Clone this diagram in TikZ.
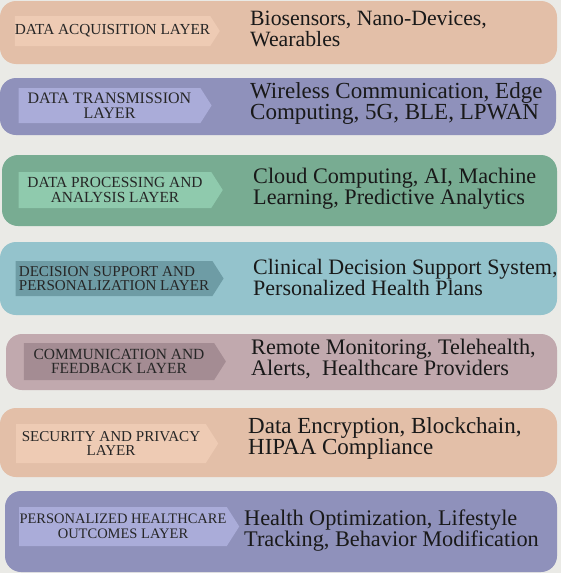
\documentclass[tikz,border=0pt]{standalone}
\usepackage{fontspec}
\setmainfont{Liberation Serif}
\usetikzlibrary{shapes.symbols}

\definecolor{paper}{HTML}{EAEAE6}
\definecolor{peach}{HTML}{E3BFA8}
\definecolor{peachlt}{HTML}{EECBB4}
\definecolor{lilac}{HTML}{8F91BB}
\definecolor{lilaclt}{HTML}{AAACD9}
\definecolor{sage}{HTML}{78AC92}
\definecolor{sagelt}{HTML}{8FCAAD}
\definecolor{aqua}{HTML}{94C3CC}
\definecolor{aquadk}{HTML}{6E9CA5}
\definecolor{mauve}{HTML}{C1A9AE}
\definecolor{mauvedk}{HTML}{A48C93}

\begin{document}
\begin{tikzpicture}[
        x=1pt, y=-1pt,
        band/.style={rectangle, rounded corners=16pt, inner sep=0pt},
        tag/.style={signal, signal to=east, signal pointer angle=115, inner sep=0pt,
            align=center, text=black!85, font=\fontsize{#1}{14.5}\selectfont},
        items/.style={anchor=west, align=left, inner sep=0pt, text=black!90,
            font=\fontsize{#1}{21}\selectfont}
    ]
    \fill[paper] (0,0) rectangle (561,573);

    \node[band, fill=peach, minimum width=557pt, minimum height=63pt] (b1) at (278.5,32.5) {};
    \node[band, fill=lilac, minimum width=556pt, minimum height=57pt] (b2) at (278,106.5) {};
    \node[band, fill=sage, minimum width=555pt, minimum height=71pt] (b3) at (279.5,190.5) {};
    \node[band, fill=aqua, minimum width=557pt, minimum height=73pt] (b4) at (278.5,278.5) {};
    \node[band, fill=mauve, minimum width=551pt, minimum height=56pt] (b5) at (281.5,362) {};
    \node[band, fill=peach, minimum width=557pt, minimum height=69pt] (b6) at (278.5,442.5) {};
    \node[band, fill=lilac, minimum width=552pt, minimum height=81pt] (b7) at (281,531.5) {};

    \node[tag=15.3, fill=peachlt, minimum width=205pt, minimum height=30pt] (t1) at (112.5,31) {DATA ACQUISITION LAYER};
    \node[tag=16, fill=lilaclt, minimum width=193pt, minimum height=35pt,
        font=\fontsize{16}{15.5}\selectfont] (t2) at (109.5,105.5) {DATA TRANSMISSION\\LAYER};
    \node[tag=15.4, fill=sagelt, minimum width=204pt, minimum height=36pt] (t3) at (115,190) {DATA PROCESSING AND\\ANALYSIS LAYER};
    \node[tag=15.1, fill=aquadk, minimum width=208pt, minimum height=35pt, align=left] (t4) at (114,278.5) {DECISION SUPPORT AND\\PERSONALIZATION LAYER};
    \node[tag=15.5, fill=mauvedk, minimum width=202pt, minimum height=37pt] (t5) at (119,361.5) {COMMUNICATION AND\\FEEDBACK LAYER};
    \node[tag=15.1, fill=peachlt, minimum width=202pt, minimum height=39pt] (t6) at (111,443.5) {SECURITY AND PRIVACY\\LAYER};
    \node[tag=14.5, fill=lilaclt, minimum width=220pt, minimum height=39pt] (t7) at (123,526.5) {PERSONALIZED HEALTHCARE\\OUTCOMES LAYER};

    \node[items=21.8] (i1) at (250,28.5) {Biosensors, Nano-Devices,\\Wearables};
    \node[items=23] (i2) at (250,103.5) {Wireless Communication, Edge\\Computing, 5G, BLE, LPWAN};
    \node[items=22.2] (i3) at (253,188.5) {Cloud Computing, AI, Machine\\Learning, Predictive Analytics};
    \node[items=22] (i4) at (253,277.5) {Clinical Decision Support System,\\Personalized Health Plans};
    \node[items=22.2] (i5) at (251,359) {Remote Monitoring, Telehealth,\\Alerts,\ \ Healthcare Providers};
    \node[items=23] (i6) at (248,438.5) {Data Encryption, Blockchain,\\HIPAA Compliance};
    \node[items=22.3] (i7) at (244,530.5) {Health Optimization, Lifestyle\\Tracking, Behavior Modification};
\end{tikzpicture}
\end{document}
